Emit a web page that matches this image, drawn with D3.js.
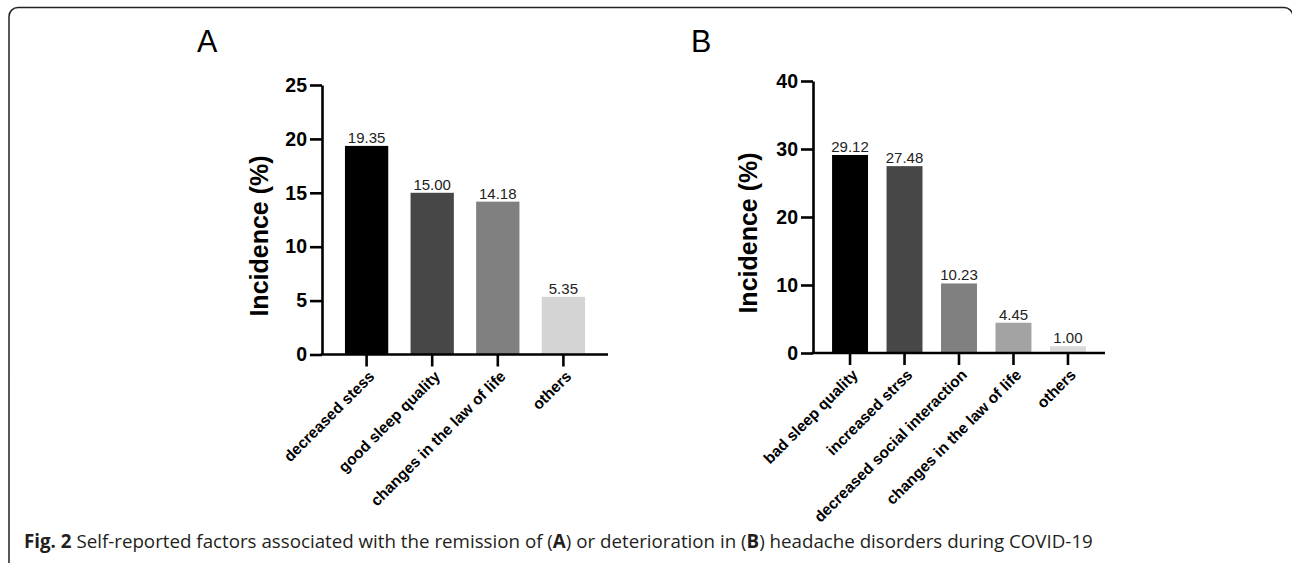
<!DOCTYPE html>
<html><head><meta charset="utf-8">
<script src="https://cdn.jsdelivr.net/npm/d3@7"></script>
<style>body{margin:0;background:#fff}svg{display:block}</style>
</head><body>
<svg id="c" width="1292" height="563"></svg>
<script>
// ---- data ----
const catsA = ["decreased stess", "good sleep quality", "changes in the law of life", "others"];
const valsA = [19.35, 15.00, 14.18, 5.35];
const ticksA = [0, 5, 10, 15, 20, 25];
const catsB = ["bad sleep quality", "increased strss", "decreased social interaction", "changes in the law of life", "others"];
const valsB = [29.12, 27.48, 10.23, 4.45, 1.00];
const ticksB = [0, 10, 20, 30, 40];
const yTitle = "Incidence (%)";
const captionParts = [
  ["Fig. 2", true], [" Self-reported factors associated with the remission of (", false],
  ["A", true], [") or deterioration in (", false], ["B", true],
  [") headache disorders during COVID-19", false]
];
// ---- styles ----
const colorsA = ["#000000", "#474747", "#808080", "#d4d4d4"];
const colorsB = ["#000000", "#474747", "#808080", "#a3a3a3", "#dadada"];

const svg = d3.select("#c");
svg.append("rect").attr("x", 9).attr("y", 7.5).attr("width", 1284).attr("height", 566)
  .attr("rx", 9).attr("fill", "none").attr("stroke", "#222").attr("stroke-width", 1.5);

function panel(cfg) {
  const g = svg.append("g");
  const x = d3.scaleBand().domain(cfg.cats).range([cfg.x0, cfg.x1]).paddingInner(0.34).paddingOuter(0.35);
  const y = d3.scaleLinear().domain([0, cfg.max]).range([cfg.y0, cfg.y1]);
  g.selectAll("rect.bar").data(cfg.vals).join("rect").attr("class", "bar")
    .attr("x", (d, i) => x(cfg.cats[i])).attr("width", x.bandwidth())
    .attr("y", d => y(d)).attr("height", d => y(0) - y(d))
    .attr("fill", (d, i) => cfg.colors[i]);
  g.selectAll("text.val").data(cfg.vals).join("text").attr("class", "val")
    .attr("x", (d, i) => x(cfg.cats[i]) + x.bandwidth() / 2).attr("y", d => y(d) - 3)
    .attr("text-anchor", "middle").attr("font-family", "Liberation Sans, Arial, sans-serif")
    .attr("font-size", 15).attr("fill", "#222").text(d => d.toFixed(2));
  // y axis
  const ya = g.append("g").attr("transform", `translate(${cfg.x0},0)`)
    .call(d3.axisLeft(y).tickValues(cfg.ticks).tickSize(12).tickSizeOuter(0).tickPadding(3));
  // x axis
  const xa = g.append("g").attr("transform", `translate(0,${cfg.y0})`)
    .call(d3.axisBottom(x).tickSize(12).tickSizeOuter(0).tickFormat(""));
  [ya, xa].forEach(a => {
    a.select(".domain").attr("stroke", "#000").attr("stroke-width", 2.6);
    a.selectAll(".tick line").attr("stroke", "#000").attr("stroke-width", 2.6);
  });
  ya.selectAll(".tick text").attr("font-family", "Liberation Sans, Arial, sans-serif")
    .attr("font-size", 19.5).attr("font-weight", "bold").attr("fill", "#000");
  xa.select(".domain").attr("d", `M${cfg.x0 - 1.3},0H${cfg.x1}`);
  // rotated category labels
  g.selectAll("text.cat").data(cfg.cats).join("text").attr("class", "cat")
    .attr("transform", d => `translate(${x(d) + x.bandwidth() / 2 + 5},${cfg.y0 + 19}) rotate(-45)`)
    .attr("text-anchor", "end").attr("dy", "0.35em")
    .attr("font-family", "Liberation Sans, Arial, sans-serif").attr("font-size", 15.5)
    .attr("font-weight", "bold").attr("fill", "#000").text(d => d);
  // y title
  g.append("text").attr("transform", `translate(${cfg.tx},${cfg.ty}) rotate(-90)`)
    .attr("text-anchor", "middle").attr("font-family", "Liberation Sans, Arial, sans-serif")
    .attr("font-size", 25).attr("font-weight", "bold").attr("fill", "#000").text(yTitle);
  // panel letter
  g.append("text").attr("x", cfg.lx).attr("y", 52).attr("font-family", "Liberation Sans, Arial, sans-serif")
    .attr("font-size", 30.5).attr("fill", "#000").text(cfg.letter);
}

panel({cats: catsA, vals: valsA, ticks: ticksA, colors: colorsA, max: 25,
  x0: 322, x1: 608, y0: 354.5, y1: 85, tx: 268, ty: 236, lx: 197, letter: "A"});
panel({cats: catsB, vals: valsB, ticks: ticksB, colors: colorsB, max: 40,
  x0: 813, x1: 1105, y0: 353, y1: 81, tx: 757, ty: 233, lx: 691, letter: "B"});

// caption
const cap = svg.append("text").attr("x", 24).attr("y", 548)
  .attr("font-family", "Open Sans, sans-serif").attr("font-size", 17).attr("fill", "#231f20")
  .attr("xml:space", "preserve").style("white-space", "pre");
const spans = captionParts.map(([t, b]) => cap.append("tspan").attr("font-weight", b ? "bold" : "normal").text(t));
let before = 0;
for (let i = 0; i < 4; i++) before += spans[i].node().getComputedTextLength();
const fs = 17 * (747 - 24) / before;
cap.attr("font-size", fs);
</script>
</body></html>
